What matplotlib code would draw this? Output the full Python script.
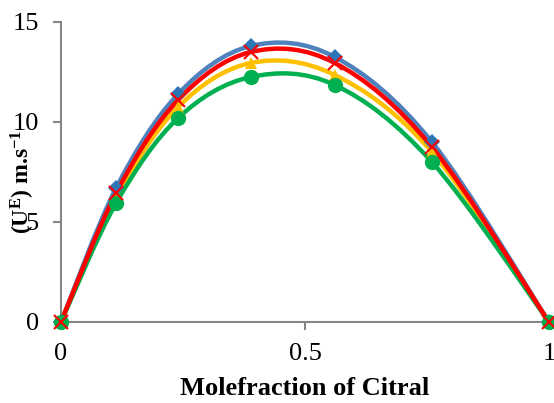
import numpy as np
import matplotlib
matplotlib.use("Agg")
import matplotlib.pyplot as plt
from matplotlib.path import Path
from matplotlib.patches import PathPatch

x = [0.0, 0.113, 0.24, 0.389, 0.561, 0.76, 1.0]
blue = [0.0, 6.7, 11.4, 13.8, 13.25, 9.0, 0.0]
red = [0.0, 6.45, 11.1, 13.5, 12.95, 8.75, 0.0]
yellow = [0.0, 6.2, 10.75, 12.95, 12.35, 8.5, 0.0]
green = [0.0, 5.95, 10.2, 12.25, 11.85, 8.0, 0.0]

xticks = [0, 0.5, 1]
xticklabels = ["0", "0.5", "1"]
yticks = [0, 5, 10, 15]
yticklabels = ["0", "5", "10", "15"]

plt.rcParams['font.family'] = ['Liberation Serif', 'DejaVu Serif']
plt.rcParams['mathtext.fontset'] = 'custom'
plt.rcParams['mathtext.rm'] = 'Liberation Serif:bold'
plt.rcParams['mathtext.it'] = 'Liberation Serif:bold'
plt.rcParams['mathtext.bf'] = 'Liberation Serif:bold'

fig = plt.figure(figsize=(5.54, 4.03), dpi=100)
ax = fig.add_axes([61/554, 81/403, 488/554, 300/403])


def smooth_path(xs, ys):
    pts = np.column_stack([xs, ys])
    n = len(pts)
    verts = [pts[0]]
    codes = [Path.MOVETO]
    for i in range(n - 1):
        p0 = pts[i - 1] if i > 0 else pts[i]
        p1 = pts[i]
        p2 = pts[i + 1]
        p3 = pts[i + 2] if i + 2 < n else pts[i + 1]
        c1 = p1 + (p2 - p0) / 6.0
        c2 = p2 - (p3 - p1) / 6.0
        verts += [c1, c2, p2]
        codes += [Path.CURVE4] * 3
    return Path(verts, codes)


series = [
    (blue, '#4F81BD', 'D', 8, '#2E75B6'),
    (yellow, '#FFC000', '^', 9, '#FFC000'),
    (green, '#00B050', 'o', 11, '#00B050'),
    (red, '#FF0000', 'x', 10, '#FF0000'),
]
for ys, col, mk, ms, mcol in series:
    patch = PathPatch(smooth_path(x, ys), facecolor='none', edgecolor=col, lw=3.2,
                      zorder=3, clip_on=False)
    ax.add_patch(patch)
    ax.plot(x, ys, linestyle='none', marker=mk, ms=ms, color=mcol,
            mew=1.5 if mk == 'x' else 0, zorder=4, clip_on=False)

ax.set_xlim(0, 1)
ax.set_ylim(0, 15)
ax.set_xticks(xticks)
ax.set_xticklabels(xticklabels)
ax.set_yticks(yticks)
ax.set_yticklabels(yticklabels)
ax.tick_params(axis='both', labelsize=19, color='#868686', width=1.5, length=6,
               direction='out')
ax.tick_params(axis='x', pad=9)
ax.tick_params(axis='y', pad=10)
for s in ['top', 'right']:
    ax.spines[s].set_visible(False)
for s in ['left', 'bottom']:
    ax.spines[s].set_color('#868686')
    ax.spines[s].set_linewidth(1.5)

ax.set_xlabel('Molefraction of Citral', fontsize=19, fontweight='bold', labelpad=9)
ax.set_ylabel(r'(U$^{E}$) m.s$^{-1}$', fontsize=17, fontweight='bold')
ax.yaxis.set_label_coords(-24/488, 0.467)

fig.savefig('out.png', dpi=100)
